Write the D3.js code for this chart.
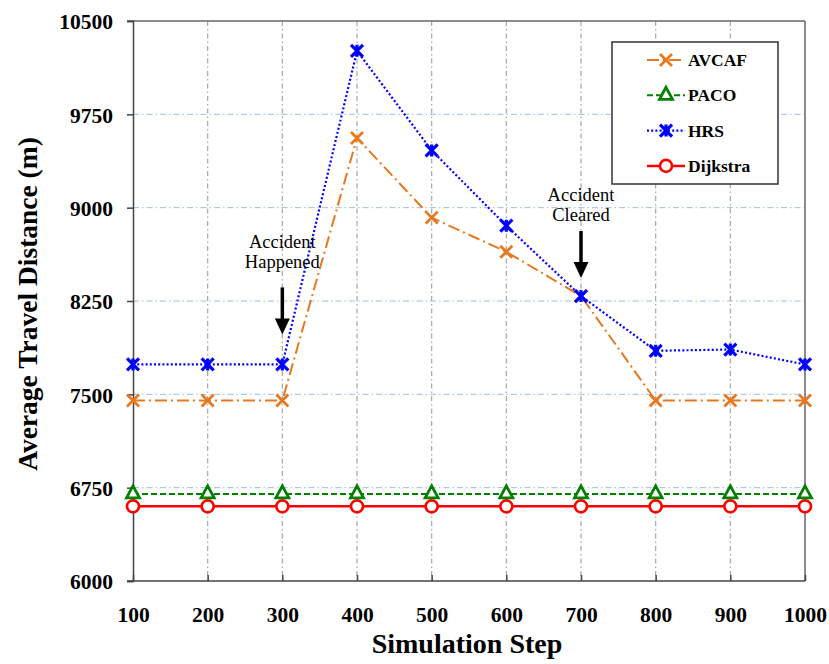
<!DOCTYPE html>
<html><head><meta charset="utf-8">
<script src="https://cdn.jsdelivr.net/npm/d3@7"></script>
<style>
html,body{margin:0;padding:0;background:#fff;}
svg{display:block;font-family:"Liberation Serif","Times New Roman",serif;}
</style></head>
<body>
<svg id="chart" width="829" height="664"></svg>
<script>
const steps = [100,200,300,400,500,600,700,800,900,1000];
const avcaf = [7450,7450,7450,9560,8920,8645,8290,7450,7450,7450];
const paco = [6700,6700,6700,6700,6700,6700,6700,6700,6700,6700];
const hrs = [7740,7740,7740,10260,9460,8855,8290,7850,7860,7740];
const dijkstra = [6600,6600,6600,6600,6600,6600,6600,6600,6600,6600];
const yTicks = [6000,6750,7500,8250,9000,9750,10500];
const xTicks = steps;
const seriesNames = ["AVCAF","PACO","HRS","Dijkstra"];
const xTitle = "Simulation Step";
const yTitle = "Average Travel Distance (m)";
const annotations = [
  {step:300, value:7740, lines:["Accident","Happened"]},
  {step:700, value:8290, lines:["Accident","Cleared"]}
];

const svg = d3.select("#chart");
const L=133, R=805, T=21, B=581;
const x = d3.scaleLinear().domain([100,1000]).range([L,R]);
const y = d3.scaleLinear().domain([6000,10500]).range([B,T]);

// gridlines
svg.append("g").selectAll("line").data(yTicks.filter(v=>v>6000 && v<10500)).join("line")
  .attr("x1",L).attr("x2",R).attr("y1",d=>y(d)).attr("y2",d=>y(d))
  .attr("stroke","#9dbde6").attr("stroke-width",1).attr("stroke-dasharray","6,3,1.5,3");
svg.append("g").selectAll("line").data(xTicks.filter(v=>v>100 && v<1000)).join("line")
  .attr("x1",d=>x(d)).attr("x2",d=>x(d)).attr("y1",T).attr("y2",B)
  .attr("stroke","#a6a6a6").attr("stroke-width",1.2).attr("stroke-dasharray","5,3,1.5,3");

// frame
const frame = svg.append("g").attr("stroke","#666").attr("stroke-width",1.5);
frame.append("line").attr("x1",L-6).attr("x2",R).attr("y1",T).attr("y2",T);
frame.append("line").attr("x1",R).attr("x2",R).attr("y1",T).attr("y2",B);

// axes
const yAxis = svg.append("g").attr("transform",`translate(${L},0)`)
  .call(d3.axisLeft(y).tickValues(yTicks).tickSize(6).tickPadding(14).tickFormat(d3.format("d")));
const xAxis = svg.append("g").attr("transform",`translate(0,${B})`)
  .call(d3.axisBottom(x).tickValues(xTicks).tickSize(-6).tickPadding(26).tickFormat(d3.format("d")));
[yAxis,xAxis].forEach(a=>{
  a.select(".domain").attr("stroke","#444").attr("stroke-width",1.5);
  a.selectAll(".tick line").attr("stroke","#444").attr("stroke-width",1.5);
  a.selectAll("text").attr("font-family","'Liberation Serif',serif").attr("font-weight","bold")
   .attr("font-size","21.5px").attr("fill","#000");
});
xAxis.select(".domain").attr("d",`M${L-6},0H${R}`);
yAxis.selectAll("text").attr("dy","0.36em");
xAxis.selectAll("text").attr("dy","0.71em");

// series
const series = [
  {name:"AVCAF", vals:avcaf, color:"#e8781e", dash:"12,4,2,4", width:2, marker:"x"},
  {name:"PACO", vals:paco, color:"#008000", dash:"6,3", width:2, marker:"tri"},
  {name:"HRS", vals:hrs, color:"#0000ff", dash:"2,2.2", width:2.2, marker:"star"},
  {name:"Dijkstra", vals:dijkstra, color:"#ff0000", dash:null, width:2.5, marker:"circle"}
];
const line = d3.line().x(d=>x(d[0])).y(d=>y(d[1]));

function drawMarker(g, type, cx, cy, color){
  if(type==="x"){
    g.append("path").attr("d",`M${cx-6},${cy-6}L${cx+6},${cy+6}M${cx-6},${cy+6}L${cx+6},${cy-6}`)
     .attr("stroke",color).attr("stroke-width",2.8).attr("fill","none");
  } else if(type==="tri"){
    g.append("path").attr("d",`M${cx},${cy-8}L${cx+6.5},${cy+4}L${cx-6.5},${cy+4}Z`)
     .attr("stroke",color).attr("stroke-width",2.8).attr("fill","#fff");
  } else if(type==="star"){
    g.append("path").attr("d",`M${cx-6},${cy-6}L${cx+6},${cy+6}M${cx-6},${cy+6}L${cx+6},${cy-6}M${cx},${cy-6}L${cx},${cy+6}`)
     .attr("stroke",color).attr("stroke-width",3.2).attr("fill","none");
  } else {
    g.append("circle").attr("cx",cx).attr("cy",cy).attr("r",6)
     .attr("stroke",color).attr("stroke-width",2.6).attr("fill","#fff");
  }
}

[3,1,0,2].forEach(i=>{
  const s = series[i];
  const data = steps.map((st,j)=>[st,s.vals[j]]);
  const g = svg.append("g");
  g.append("path").attr("d",line(data)).attr("fill","none").attr("stroke",s.color)
    .attr("stroke-width",s.width).attr("stroke-dasharray",s.dash);
  data.forEach(d=>drawMarker(g,s.marker,x(d[0]),y(d[1]),s.color));
});

// annotations
annotations.forEach((a,k)=>{
  const ax = x(a.step);
  const bottom = y(a.value) - (k===0?30:18);
  const textGap = k===0?86:77;
  const g = svg.append("g");
  g.append("line").attr("x1",ax).attr("x2",ax).attr("y1",bottom-47).attr("y2",bottom-14)
    .attr("stroke","#000").attr("stroke-width",3.5);
  g.append("path").attr("d",`M${ax-7.5},${bottom-16}L${ax+7.5},${bottom-16}L${ax},${bottom}Z`).attr("fill","#000");
  a.lines.forEach((t,i)=>{
    g.append("text").attr("x",ax).attr("y",bottom-textGap+i*20).attr("text-anchor","middle")
      .attr("font-size","18.5px").attr("fill","#000").text(t);
  });
});

// legend
const lg = svg.append("g");
lg.append("rect").attr("x",612).attr("y",42).attr("width",166).attr("height",142)
  .attr("fill","#fff").attr("stroke","#333").attr("stroke-width",1.5);
series.forEach((s,i)=>{
  const ly = 60 + i*35.3;
  lg.append("line").attr("x1",647).attr("x2",685).attr("y1",ly).attr("y2",ly)
    .attr("stroke",s.color).attr("stroke-width",s.width).attr("stroke-dasharray",s.dash);
  drawMarker(lg,s.marker,666,ly,s.color);
  lg.append("text").attr("x",688).attr("y",ly).attr("dy","0.35em")
    .attr("font-size","17.5px").attr("font-weight","bold").attr("fill","#000").text(seriesNames[i]);
});

// titles
svg.append("text").attr("x",467).attr("y",653).attr("text-anchor","middle")
  .attr("font-size","28px").attr("font-weight","bold").attr("fill","#000").text(xTitle);
svg.append("text").attr("transform","translate(37,304) rotate(-90)").attr("text-anchor","middle")
  .attr("font-size","27.5px").attr("font-weight","bold").attr("fill","#000").text(yTitle);
</script>
</body></html>
